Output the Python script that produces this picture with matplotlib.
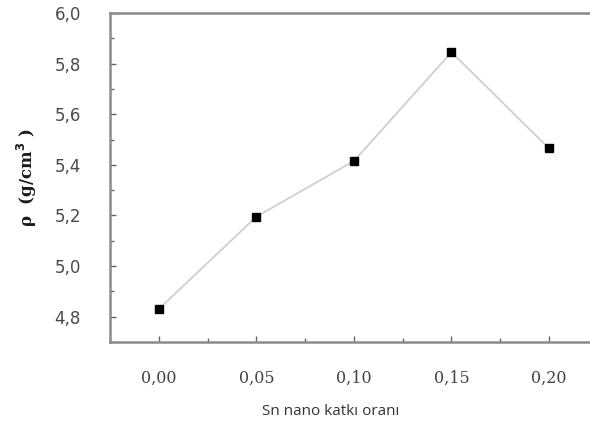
import numpy as np
import matplotlib
matplotlib.use("Agg")
from matplotlib import pyplot as plt
from matplotlib.ticker import MultipleLocator, FuncFormatter

# Sn nano katkı oranı ve yoğunluk değerleri
katki_orani = [0.00, 0.05, 0.10, 0.15, 0.20]
yogunluk = [4.83, 5.195, 5.415, 5.845, 5.465]


def virgul_format(ndigits):
    return FuncFormatter(lambda v, pos: f"{v:.{ndigits}f}".replace(".", ","))


def plot_yogunluk():
    fig = plt.figure(figsize=(5.9, 4.23), dpi=100)
    ax = fig.add_axes([0.1864, 0.1915, 0.8136, 0.7778])

    ax.plot(katki_orani, yogunluk, color="#cfcfcf", linewidth=1.3, zorder=2)
    ax.plot(katki_orani, yogunluk, "s", color="black", markersize=5.5, zorder=3)

    ax.set_xlim(-0.025, 0.221)
    ax.set_ylim(4.70, 6.0)

    ax.xaxis.set_major_locator(MultipleLocator(0.05))
    ax.xaxis.set_minor_locator(MultipleLocator(0.025))
    ax.yaxis.set_major_locator(MultipleLocator(0.2))
    ax.yaxis.set_minor_locator(MultipleLocator(0.1))
    ax.xaxis.set_major_formatter(virgul_format(2))
    ax.yaxis.set_major_formatter(virgul_format(1))

    for side in ["left", "top", "bottom"]:
        ax.spines[side].set_color("#8a8a8a")
        ax.spines[side].set_linewidth(1.8)
    ax.spines["right"].set_visible(False)

    ax.tick_params(which="both", direction="in", color="#666666", width=1.0,
                   top=False, right=False)
    ax.tick_params(which="major", length=4)
    ax.tick_params(which="minor", length=3)
    ax.tick_params(axis="y", which="major", pad=21, labelsize=12,
                   labelcolor="#4a4a4a")
    ax.tick_params(axis="x", which="major", pad=20, labelsize=11.5,
                   labelcolor="#444444")
    for lbl in ax.get_xticklabels():
        lbl.set_family("DejaVu Serif")

    ax.set_ylabel("ρ  (g/cm$^\\mathbf{3}$ )", fontsize=12, fontweight="bold",
                  family="DejaVu Serif", color="#1a1a1a", labelpad=11)
    fig.text(0.56, 0.028, "Sn nano katkı oranı", ha="center", va="center",
             fontsize=11, family="Open Sans", color="#333333")

    fig.savefig("out.png", dpi=100)


if __name__ == '__main__':
    plot_yogunluk()
